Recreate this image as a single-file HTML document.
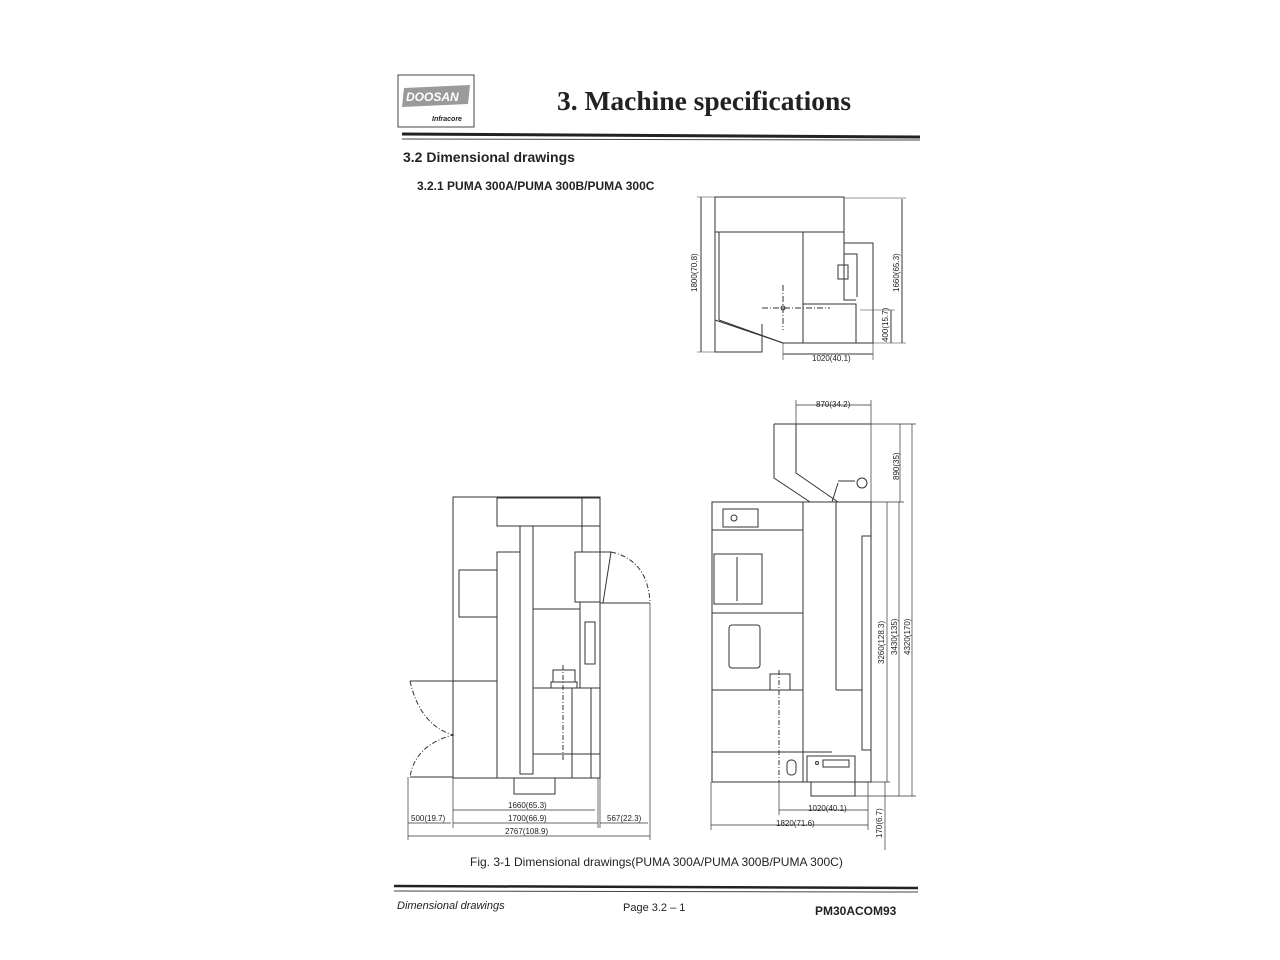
<!DOCTYPE html>
<html><head><meta charset="utf-8"><style>
html,body{margin:0;padding:0;background:#fff;}
svg{display:block}
text{font-family:"Liberation Sans",sans-serif;fill:#222}
</style></head><body>
<svg width="1280" height="960" viewBox="0 0 1280 960" xmlns="http://www.w3.org/2000/svg">
<rect width="1280" height="960" fill="#fff"/>
<rect x="398" y="75" width="76" height="52" fill="none" stroke="#444" stroke-width="1"/>
<path d="M404 88 L470 85 L468 104 L402 107 Z" fill="#9a9a9a"/>
<text x="406" y="101" font-size="12" font-weight="bold" font-style="italic" style="fill:#fff">DOOSAN</text>
<text x="432" y="121" font-size="7" font-weight="bold" font-style="italic">Infracore</text>
<text x="704" y="110" font-size="27.5" font-weight="bold" text-anchor="middle" style="font-family:'Liberation Serif',serif">3. Machine specifications</text>
<line x1="402" y1="134" x2="920" y2="137" stroke="#222" stroke-width="3"/>
<line x1="402" y1="139" x2="920" y2="140" stroke="#444" stroke-width="1"/>
<text x="403" y="162" font-size="14" font-weight="bold">3.2 Dimensional drawings</text>
<text x="417" y="190" font-size="12" font-weight="bold">3.2.1 PUMA 300A/PUMA 300B/PUMA 300C</text>

<g fill="none" stroke="#333" stroke-width="1">
<path d="M715 197 H844 V243 H873 V343 H783 L719 320 M715 197 V352 H762 V324"/>
<line x1="715" y1="232" x2="844" y2="232"/>
<line x1="719" y1="232" x2="719" y2="320"/>
<line x1="715" y1="320" x2="783" y2="343"/>
<line x1="803" y1="232" x2="803" y2="343"/>
<path d="M844 243 V300 H856 M803 304 H856 V343"/>
<rect x="838" y="265" width="10" height="14"/>
<path d="M844 254 H857 V297"/>
<line x1="762" y1="308" x2="830" y2="308" stroke-dasharray="6,2,1,2"/>
<line x1="783" y1="285" x2="783" y2="330" stroke-dasharray="6,2,1,2"/>
<circle cx="783" cy="308" r="2"/>
<line x1="701" y1="197" x2="701" y2="352"/>
<line x1="697" y1="197" x2="715" y2="197" stroke-width=".6"/>
<line x1="697" y1="352" x2="715" y2="352" stroke-width=".6"/>
<line x1="902" y1="199" x2="902" y2="343"/>
<line x1="844" y1="198" x2="906" y2="198" stroke-width=".6"/>
<line x1="873" y1="343" x2="906" y2="343" stroke-width=".6"/>
<line x1="891" y1="310" x2="891" y2="343"/>
<line x1="860" y1="310" x2="895" y2="310" stroke-width=".6"/>
<line x1="783" y1="354" x2="873" y2="354"/>
<line x1="783" y1="343" x2="783" y2="360" stroke-width=".6"/>
<line x1="873" y1="343" x2="873" y2="360" stroke-width=".6"/>

<rect x="453" y="497" width="147" height="281"/>
<rect x="497" y="498" width="103" height="28"/>
<line x1="582" y1="498" x2="582" y2="552"/>
<path d="M497 778 V552 H520 M520 526 V774 H533 V526"/>
<rect x="459" y="570" width="38" height="47"/>
<line x1="453" y1="681" x2="497" y2="681"/>
<rect x="575" y="552" width="25" height="50"/>
<path d="M600 552 H611 L603 603 H600"/>
<path d="M611 552 Q648 560 650 603" stroke-dasharray="5,2,1,2"/>
<line x1="603" y1="603" x2="650" y2="603"/>
<line x1="533" y1="609" x2="580" y2="609"/>
<line x1="580" y1="602" x2="580" y2="688"/>
<rect x="585" y="622" width="10" height="42"/>
<path d="M533 688 H600 M572 688 V778 M591 688 V778 M533 754 H600"/>
<rect x="553" y="670" width="22" height="12"/>
<rect x="551" y="682" width="26" height="6"/>
<line x1="563" y1="665" x2="563" y2="760" stroke-dasharray="5,2,1,2"/>
<rect x="514" y="778" width="41" height="16"/>
<line x1="410" y1="681" x2="453" y2="681"/>
<path d="M410 681 Q420 725 453 735 Q415 745 410 777" stroke-dasharray="5,2,1,2"/>
<line x1="410" y1="777" x2="453" y2="777"/>
<g stroke-width=".7">
<line x1="453" y1="778" x2="453" y2="828"/>
<line x1="408" y1="777" x2="408" y2="840"/>
<line x1="598" y1="778" x2="598" y2="828"/>
<line x1="600" y1="603" x2="600" y2="828"/>
<line x1="650" y1="603" x2="650" y2="840"/>
<line x1="453" y1="810" x2="595" y2="810"/>
<line x1="453" y1="823" x2="598" y2="823"/>
<line x1="408" y1="823" x2="451" y2="823"/>
<line x1="600" y1="823" x2="648" y2="823"/>
<line x1="408" y1="836" x2="650" y2="836"/>
</g>

<rect x="712" y="502" width="159" height="280"/>
<path d="M774 424 H871 M774 424 V478 L810 502 M796 424 V473 L838 502 M832 502 L838 483"/>
<path d="M838 481 H855"/>
<circle cx="862" cy="483" r="5"/>
<line x1="803" y1="502" x2="803" y2="782"/>
<line x1="836" y1="502" x2="836" y2="690"/>
<line x1="836" y1="690" x2="862" y2="690"/>
<rect x="862" y="536" width="9" height="214"/>
<line x1="712" y1="530" x2="803" y2="530"/>
<rect x="723" y="509" width="35" height="18"/>
<circle cx="734" cy="518" r="3"/>
<rect x="714" y="554" width="48" height="50"/>
<line x1="737" y1="557" x2="737" y2="601"/>
<line x1="712" y1="613" x2="803" y2="613"/>
<rect x="729" y="625" width="31" height="43" rx="3"/>
<line x1="712" y1="690" x2="803" y2="690"/>
<rect x="770" y="674" width="20" height="16"/>
<line x1="779" y1="670" x2="779" y2="782" stroke-dasharray="5,2,1,2"/>
<line x1="712" y1="752" x2="832" y2="752"/>
<rect x="787" y="760" width="9" height="15" rx="4"/>
<rect x="807" y="756" width="48" height="26"/>
<rect x="823" y="760" width="26" height="7"/>
<circle cx="817" cy="763" r="1.5"/>
<rect x="811" y="782" width="44" height="14"/>
<g stroke-width=".7">
<line x1="796" y1="400" x2="796" y2="424"/>
<line x1="871" y1="400" x2="871" y2="502"/>
<line x1="796" y1="405" x2="871" y2="405"/>
<line x1="871" y1="424" x2="916" y2="424"/>
<line x1="871" y1="502" x2="904" y2="502"/>
<line x1="855" y1="796" x2="916" y2="796"/>
<line x1="871" y1="782" x2="890" y2="782"/>
<line x1="900" y1="424" x2="900" y2="502"/>
<line x1="887" y1="502" x2="887" y2="782"/>
<line x1="899" y1="502" x2="899" y2="796"/>
<line x1="912" y1="424" x2="912" y2="796"/>
<line x1="885" y1="782" x2="885" y2="850"/>
<line x1="779" y1="782" x2="779" y2="815"/>
<line x1="868" y1="782" x2="868" y2="830"/>
<line x1="711" y1="782" x2="711" y2="830"/>
<line x1="779" y1="810" x2="868" y2="810"/>
<line x1="711" y1="825" x2="868" y2="825"/>
</g>
</g>
<g font-size="8">
<text transform="translate(697 292) rotate(-90)">1800(70.8)</text>
<text transform="translate(899 292) rotate(-90)">1660(65.3)</text>
<text transform="translate(888 342) rotate(-90)">400(15.7)</text>
<text x="812" y="361">1020(40.1)</text>
<text x="508" y="808">1660(65.3)</text>
<text x="508" y="821">1700(66.9)</text>
<text x="411" y="821">500(19.7)</text>
<text x="607" y="821">567(22.3)</text>
<text x="505" y="834">2767(108.9)</text>
<text x="816" y="407">870(34.2)</text>
<text transform="translate(899 480) rotate(-90)">890(35)</text>
<text transform="translate(884 664) rotate(-90)">3260(128.3)</text>
<text transform="translate(897 655) rotate(-90)">3430(135)</text>
<text transform="translate(910 655) rotate(-90)">4320(170)</text>
<text transform="translate(882 838) rotate(-90)">170(6.7)</text>
<text x="808" y="811">1020(40.1)</text>
<text x="776" y="826">1820(71.6)</text>
</g>
<text x="470" y="866" font-size="12">Fig. 3-1 Dimensional drawings(PUMA 300A/PUMA 300B/PUMA 300C)</text>
<line x1="394" y1="886" x2="918" y2="888" stroke="#222" stroke-width="2.5"/>
<line x1="394" y1="891" x2="918" y2="892" stroke="#444" stroke-width="1"/>
<text x="397" y="909" font-size="11" font-style="italic">Dimensional drawings</text>
<text x="623" y="911" font-size="11">Page 3.2 – 1</text>
<text x="815" y="915" font-size="12" font-weight="bold">PM30ACOM93</text>
</svg>
</body></html>
